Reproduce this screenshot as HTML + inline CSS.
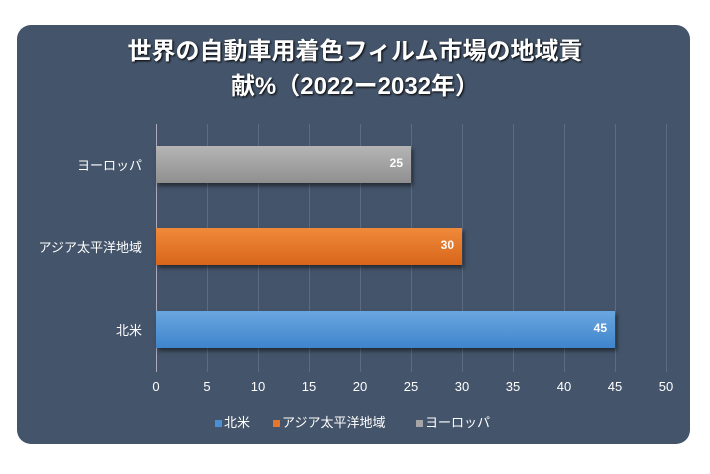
<!DOCTYPE html>
<html><head><meta charset="utf-8"><style>
body{margin:0;width:710px;height:474px;background:#fff;overflow:hidden;font-family:"Liberation Sans","Noto Sans CJK JP",sans-serif}
.p{position:absolute;left:17px;top:25px;width:673px;height:419px;background:#44546a;border-radius:14px}
.t{position:absolute;left:0;width:710px;text-align:center;color:#fff;font-size:24px;font-weight:bold;line-height:34px;text-shadow:1px 1px 2px #000}
.g{position:absolute;top:124px;height:248px;width:1px;background:#5d6b80}
.b{position:absolute;left:156px;height:37px;box-shadow:2px 3px 4px rgba(0,0,0,.5)}
.v{position:absolute;right:8px;top:10px;color:#fff;font-size:12px;font-weight:bold}
.l{position:absolute;right:568px;color:#fff;font-size:13px}
.x{position:absolute;top:379px;color:#fff;font-size:13px;width:30px;text-align:center}
.lg{position:absolute;top:412px;color:#fff;font-size:13px;white-space:nowrap}
.sq{display:inline-block;width:7px;height:7px;margin-right:2px}
</style></head><body>
<div class="p"></div>
<div class="t" style="top:35px">世界の自動車用着色フィルム市場の地域貢</div>
<div class="t" style="top:70px">献%（2022ー2032年）</div>
<div class="g" style="left:156px;background:#aab"></div>
<div class="g" style="left:207px"></div><div class="g" style="left:258px"></div><div class="g" style="left:309px"></div><div class="g" style="left:360px"></div><div class="g" style="left:411px"></div><div class="g" style="left:462px"></div><div class="g" style="left:513px"></div><div class="g" style="left:564px"></div><div class="g" style="left:615px"></div><div class="g" style="left:666px"></div>
<div class="b" style="top:146px;width:255px;background:linear-gradient(#b5b5b5,#8f8f8f)"><span class="v">25</span></div>
<div class="b" style="top:228px;width:306px;background:linear-gradient(#f08a3a,#d8661a)"><span class="v">30</span></div>
<div class="b" style="top:311px;width:459px;background:linear-gradient(#6aa6e0,#3f85cc)"><span class="v">45</span></div>
<div class="l" style="top:155px">ヨーロッパ</div>
<div class="l" style="top:237px">アジア太平洋地域</div>
<div class="l" style="top:320px">北米</div>
<div class="x" style="left:141px">0</div><div class="x" style="left:192px">5</div><div class="x" style="left:243px">10</div><div class="x" style="left:294px">15</div><div class="x" style="left:345px">20</div><div class="x" style="left:396px">25</div><div class="x" style="left:447px">30</div><div class="x" style="left:498px">35</div><div class="x" style="left:549px">40</div><div class="x" style="left:600px">45</div><div class="x" style="left:651px">50</div>
<div class="lg" style="left:215px"><span class="sq" style="background:#4a8fd6"></span>北米</div>
<div class="lg" style="left:273px"><span class="sq" style="background:#e8762a"></span>アジア太平洋地域</div>
<div class="lg" style="left:416px"><span class="sq" style="background:#a5a5a5"></span>ヨーロッパ</div>
</body></html>
